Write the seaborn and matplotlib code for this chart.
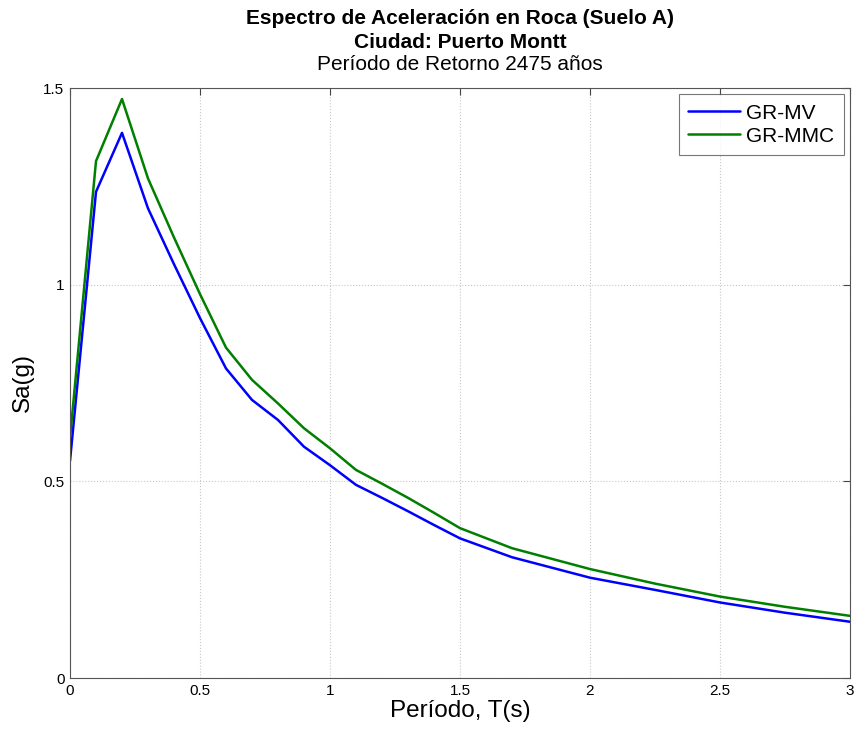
import matplotlib
matplotlib.use('Agg')
import matplotlib.pyplot as plt
import pandas as pd
import seaborn as sns

# Periods (s) and spectral accelerations (g)
periods = [0.0, 0.1, 0.2, 0.3, 0.4, 0.5, 0.6, 0.7, 0.8, 0.9, 1.0, 1.1,
           1.2, 1.3, 1.4, 1.5, 1.7, 2.0, 2.25, 2.5, 2.75, 3.0]
sa_gr_mv = [0.552, 1.236, 1.386, 1.194, 1.052, 0.915, 0.787, 0.707, 0.656,
            0.588, 0.541, 0.491, 0.458, 0.424, 0.389, 0.355, 0.307, 0.255,
            0.224, 0.192, 0.166, 0.143]
sa_gr_mmc = [0.610, 1.314, 1.472, 1.270, 1.120, 0.976, 0.840, 0.758, 0.698,
             0.635, 0.584, 0.529, 0.494, 0.458, 0.420, 0.381, 0.330, 0.277,
             0.240, 0.207, 0.181, 0.158]
series_names = ['GR-MV', 'GR-MMC']

df = pd.DataFrame({
    'T': periods * 2,
    'Sa': sa_gr_mv + sa_gr_mmc,
    'serie': [series_names[0]] * len(periods) + [series_names[1]] * len(periods),
})

sns.set_style('white')
plt.rcParams['font.family'] = ['Liberation Sans', 'DejaVu Sans']
plt.rcParams['text.color'] = 'black'
plt.rcParams['axes.labelcolor'] = 'black'

fig = plt.figure(figsize=(8.59, 7.35), dpi=100)
ax = fig.add_axes([70 / 859, 1 - 678 / 735, 780 / 859, 590 / 735])

sns.lineplot(data=df, x='T', y='Sa', hue='serie', hue_order=series_names,
             palette=['#0000ff', '#007f00'], linewidth=1.8, ax=ax)

ax.set_xlim(0, 3)
ax.set_ylim(0, 1.5)
ax.set_xticks([0, 0.5, 1, 1.5, 2, 2.5, 3])
ax.set_xticklabels(['0', '0.5', '1', '1.5', '2', '2.5', '3'])
ax.set_yticks([0, 0.5, 1, 1.5])
ax.set_yticklabels(['0', '0.5', '1', '1.5'])
ax.grid(True, linestyle=':', color='#c8c8c8', linewidth=0.8)
ax.tick_params(direction='in', length=5, width=0.8, top=True, right=True,
               labelsize=11, colors='#444444', labelcolor='black', pad=4)
for s in ax.spines.values():
    s.set_color('#555555')
    s.set_linewidth(0.8)

ax.set_xlabel('Período, T(s)', fontsize=17.5, labelpad=2)
ax.set_ylabel('Sa(g)', fontsize=17.5, labelpad=7)

# three title lines, placed like the reference
fig.text(0.5355, 1 - 18 / 735, 'Espectro de Aceleración en Roca (Suelo A)',
         ha='center', va='center', fontsize=15, fontweight='bold')
fig.text(0.5355, 1 - 42 / 735, 'Ciudad: Puerto Montt',
         ha='center', va='center', fontsize=15, fontweight='bold')
fig.text(0.5355, 1 - 64 / 735, 'Período de Retorno 2475 años',
         ha='center', va='center', fontsize=15)

leg = ax.legend(loc='upper right', fontsize=15, frameon=True, fancybox=False,
                edgecolor='#555555', borderpad=0.45, handlelength=2.5,
                handletextpad=0.3, labelspacing=0.2, borderaxespad=0.3)
leg.get_frame().set_linewidth(0.8)
leg.set_title(None)

fig.savefig('out.png', dpi=100)
